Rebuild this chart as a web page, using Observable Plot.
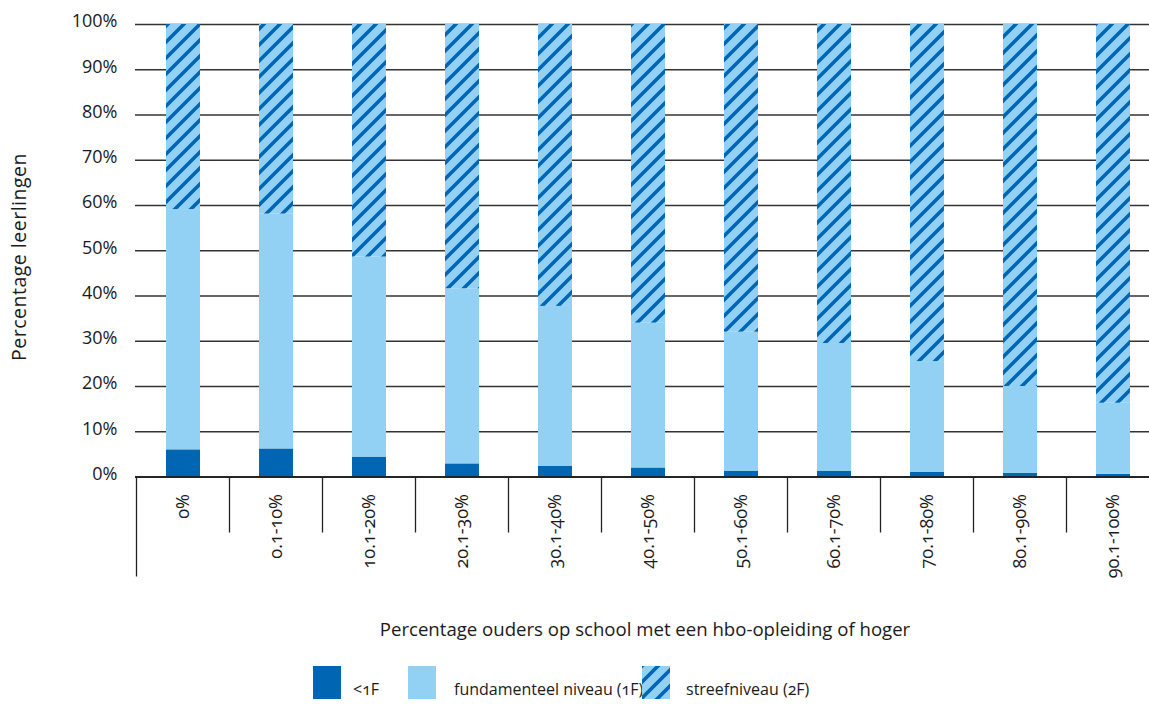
<!DOCTYPE html>
<html>
<head>
<meta charset="utf-8">
<script src="https://cdn.jsdelivr.net/npm/d3@7"></script>
<script src="https://cdn.jsdelivr.net/npm/@observablehq/plot@0.6"></script>
<style>
  body { margin: 0; background: #fff; font-family: "Open Sans", sans-serif; color: #1a1a1a; }
  #wrap { position: relative; width: 1149px; height: 704px; overflow: hidden; }
  #chart svg { font-family: "Open Sans", sans-serif; font-variant-numeric: oldstyle-nums; }
  #ylabel { position: absolute; left: 18px; top: 257px; transform: translate(-50%, -50%) rotate(-90deg); font-size: 19.5px; letter-spacing: 0.5px; white-space: nowrap; }
  #xtitle { position: absolute; left: 645px; top: 628px; transform: translate(-50%, -50%); font-size: 18.6px; white-space: nowrap; }
  .sw { position: absolute; top: 666px; width: 28px; height: 33px; }
  .lt { position: absolute; top: 678px; font-size: 16px; white-space: nowrap; font-variant-numeric: oldstyle-nums; }
</style>
</head>
<body>
<div id="wrap">
  <svg width="0" height="0" style="position:absolute">
    <defs>
      <pattern id="hatch" patternUnits="userSpaceOnUse" width="16" height="16">
        <rect width="16" height="16" fill="#92d1f3"></rect>
        <path d="M-4,4 L4,-4 M0,16 L16,0 M12,20 L20,12" stroke="#0066b3" stroke-width="3.6"></path>
      </pattern>
    </defs>
  </svg>
  <div id="chart"></div>
  <div id="ylabel">Percentage leerlingen</div>
  <div id="xtitle">Percentage ouders op school met een hbo-opleiding of hoger</div>
  <div id="legend"></div>
</div>
<script>
// ---- data ----
const categories = ["0%", "0.1-10%", "10.1-20%", "20.1-30%", "30.1-40%", "40.1-50%", "50.1-60%", "60.1-70%", "70.1-80%", "80.1-90%", "90.1-100%"];
const seriesNames = ["<1F", "fundamenteel niveau (1F)", "streefniveau (2F)"];
const below1F = [6.0, 6.2, 4.4, 2.9, 2.4, 2.0, 1.3, 1.3, 1.0, 0.8, 0.6];
const level1F = [53.1, 51.9, 44.2, 38.7, 35.3, 32.0, 30.7, 28.2, 24.5, 19.2, 15.7];
const level2F = [40.9, 41.9, 51.4, 58.4, 62.3, 66.0, 68.0, 70.5, 74.5, 80.0, 83.7];
const yTicks = [0, 10, 20, 30, 40, 50, 60, 70, 80, 90, 100];
const seriesColors = ["#0066b3", "#92d1f3", "url(#hatch)"];

const table = [];
categories.forEach((c, i) => {
  table.push({cat: c, series: seriesNames[0], value: below1F[i]});
  table.push({cat: c, series: seriesNames[1], value: level1F[i]});
  table.push({cat: c, series: seriesNames[2], value: level2F[i]});
});

const W = 1149, H = 600;
const xRange = [135, 1161];
const padInner = 0.635;

const separators = (index, scales) => {
  const x = scales.x;
  const step = (xRange[1] - xRange[0]) / categories.length;
  const y0 = scales.y(0);
  const g = d3.create("svg:g").attr("stroke", "#222").attr("stroke-width", 1.3);
  categories.forEach((c, i) => {
    const px = Math.round(x(c) - step * padInner / 2) + 0.5;
    g.append("line").attr("x1", px).attr("x2", px).attr("y1", y0).attr("y2", y0 + (i === 0 ? 100 : 56));
  });
  return g.node();
};

const chart = Plot.plot({
  width: W,
  height: H,
  marginTop: 24,
  marginBottom: 123.5,
  marginLeft: 135,
  marginRight: 0,
  style: {fontSize: "18px", color: "#1a1a1a", background: "#fff"},
  x: {domain: categories, range: xRange, paddingInner: padInner, paddingOuter: padInner / 2, label: null},
  y: {domain: [0, 100], label: null},
  color: {domain: seriesNames, range: seriesColors},
  marks: [
    Plot.gridY(yTicks, {stroke: "#333", strokeOpacity: 1, strokeWidth: 1.3}),
    Plot.barY(table, {x: "cat", y: "value", fill: "series"}),
    Plot.ruleY([0], {stroke: "#111", strokeWidth: 1.3}),
    Plot.axisY(yTicks, {tickSize: 0, tickPadding: 18, tickFormat: d => d + "%", dy: -3, label: null, fontSize: 18}),
    Plot.axisX({tickSize: 0, tickRotate: -90, tickPadding: 17, label: null, fontSize: 18}),
    separators
  ]
});
document.getElementById("chart").appendChild(chart);

// legend
const legend = document.getElementById("legend");
const swX = [313, 408, 642];
const txX = [353, 454, 686];
seriesNames.forEach((s, i) => {
  const sw = document.createElementNS("http://www.w3.org/2000/svg", "svg");
  sw.setAttribute("class", "sw");
  sw.setAttribute("width", 28); sw.setAttribute("height", 33);
  sw.style.left = swX[i] + "px";
  const r = document.createElementNS("http://www.w3.org/2000/svg", "rect");
  r.setAttribute("width", 28); r.setAttribute("height", 33); r.setAttribute("fill", seriesColors[i]);
  sw.appendChild(r);
  legend.appendChild(sw);
  const t = document.createElement("div");
  t.className = "lt"; t.style.left = txX[i] + "px"; t.textContent = s;
  legend.appendChild(t);
});
</script>
</body>
</html>
